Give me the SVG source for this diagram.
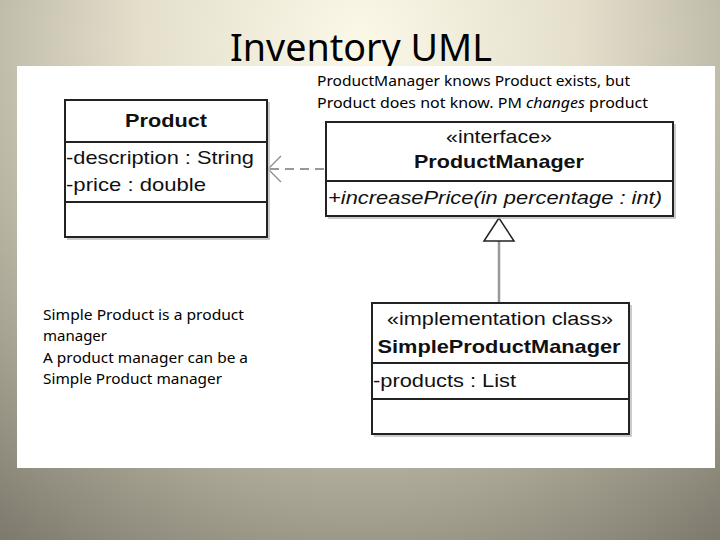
<svg xmlns="http://www.w3.org/2000/svg" width="720" height="540" viewBox="0 0 720 540">
<defs>
<radialGradient id="bg" cx="360" cy="40" r="620" gradientUnits="userSpaceOnUse">
<stop offset="0" stop-color="#fbf8e8"/>
<stop offset="0.35" stop-color="#e4e0cc"/>
<stop offset="0.75" stop-color="#a7a392"/>
<stop offset="1" stop-color="#7b786c"/>
</radialGradient>
<style>
.box{fill:#fff;stroke:#222;stroke-width:2}
.sh{fill:none;stroke:#bbb;stroke-width:1.5}
.div{stroke:#222;stroke-width:2}
.u{font-family:"Liberation Sans",Arial,sans-serif;font-size:19px;fill:#111}
.b{font-weight:bold}
.c{font-family:"Noto Sans","Open Sans",sans-serif;fill:#000}
</style>
</defs>
<rect width="720" height="540" fill="url(#bg)"/>
<text x="230" y="61" class="c" font-size="38" textLength="262" lengthAdjust="spacingAndGlyphs">Inventory UML</text>
<rect x="17" y="66" width="698" height="402" fill="#fff"/>
<text x="317" y="86" class="c" font-size="14.5" textLength="313" lengthAdjust="spacingAndGlyphs">ProductManager knows Product exists, but</text>
<text x="317" y="108" class="c" font-size="14.5" textLength="331" lengthAdjust="spacingAndGlyphs">Product does not know.  PM <tspan font-style="italic">changes</tspan> product</text>
<g id="note" class="c" font-size="15">
<text x="43" y="320" textLength="201" lengthAdjust="spacingAndGlyphs">Simple Product is a product</text>
<text x="43" y="341">manager</text>
<text x="43" y="363" textLength="205" lengthAdjust="spacingAndGlyphs">A product manager can be a</text>
<text x="43" y="384" textLength="179" lengthAdjust="spacingAndGlyphs">Simple Product manager</text>
</g>
<g id="connectors">
<line x1="270" y1="169" x2="326" y2="169" stroke="#777" stroke-width="1.5" stroke-dasharray="9,6"/>
<polyline points="281,156 268,169 281,182" fill="none" stroke="#888" stroke-width="1.2"/>
<line x1="499" y1="241" x2="499" y2="303" stroke="#999" stroke-width="2.5"/>
<polygon points="499,218 484,241 514,241" fill="#fff" stroke="#222" stroke-width="1.5"/>
</g>
<g id="product">
<polyline class="sh" points="269,102 269,239 67,239"/>
<rect class="box" x="65" y="100" width="202" height="137"/>
<line class="div" x1="65" y1="142" x2="267" y2="142"/>
<line class="div" x1="65" y1="202" x2="267" y2="202"/>
<text class="u b" x="166" y="127" text-anchor="middle" textLength="82" lengthAdjust="spacingAndGlyphs">Product</text>
<text class="u" x="66" y="164" textLength="188" lengthAdjust="spacingAndGlyphs">-description : String</text>
<text class="u" x="66" y="191" textLength="140" lengthAdjust="spacingAndGlyphs">-price : double</text>
</g>
<g id="productmanager">
<polyline class="sh" points="675,124 675,218 328,218"/>
<rect class="box" x="326" y="122" width="347" height="94"/>
<line class="div" x1="326" y1="181" x2="673" y2="181"/>
<text class="u" x="499" y="143" text-anchor="middle" textLength="106" lengthAdjust="spacingAndGlyphs">«interface»</text>
<text class="u b" x="499" y="168" text-anchor="middle" textLength="170" lengthAdjust="spacingAndGlyphs">ProductManager</text>
<text class="u" x="328" y="204" font-style="italic" textLength="334" lengthAdjust="spacingAndGlyphs">+increasePrice(in percentage : int)</text>
</g>
<g id="simpleproductmanager">
<polyline class="sh" points="631,305 631,436 374,436"/>
<rect class="box" x="372" y="303" width="257" height="131"/>
<line class="div" x1="372" y1="363" x2="629" y2="363"/>
<line class="div" x1="372" y1="399" x2="629" y2="399"/>
<text class="u" x="500" y="325" text-anchor="middle" textLength="226" lengthAdjust="spacingAndGlyphs">«implementation class»</text>
<text class="u b" x="499" y="353" text-anchor="middle" textLength="243" lengthAdjust="spacingAndGlyphs">SimpleProductManager</text>
<text class="u" x="373" y="387" textLength="143" lengthAdjust="spacingAndGlyphs">-products : List</text>
</g>
</svg>
